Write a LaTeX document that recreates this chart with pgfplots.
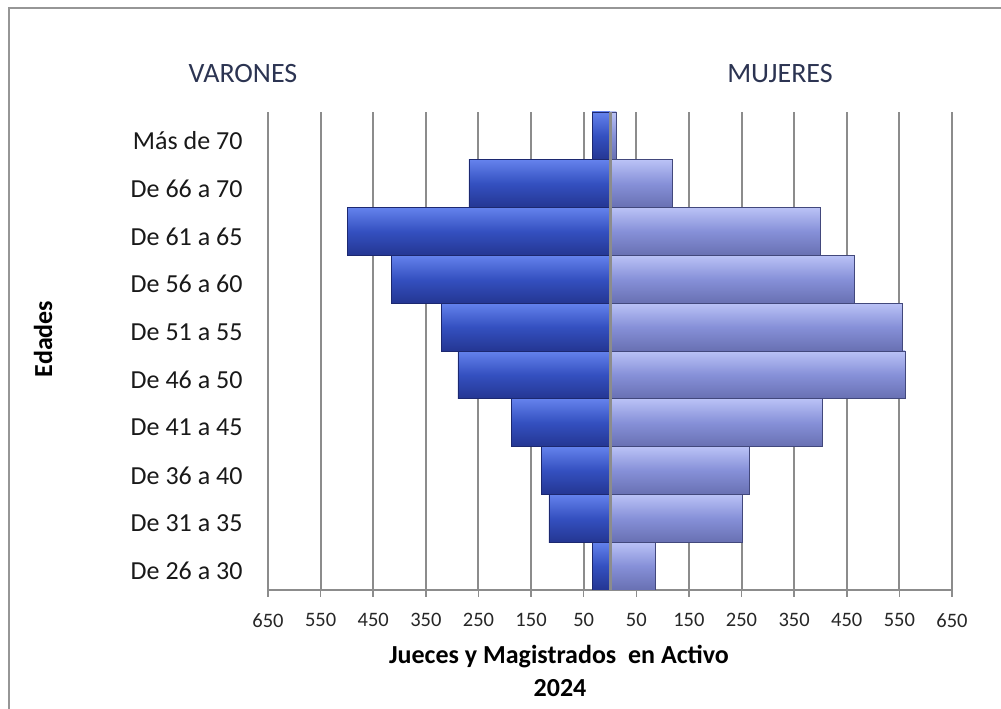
\documentclass[border=0pt]{standalone}
\usepackage{pgfplots}
\pgfplotsset{compat=1.18}
\usepackage{fontspec}
\setmainfont{Carlito}
\definecolor{gridgray}{RGB}{140,140,140}
\definecolor{menmid}{RGB}{52,80,192}
\definecolor{mentop}{RGB}{100,130,236}
\definecolor{menbot}{RGB}{36,54,146}
\definecolor{menedge}{RGB}{28,40,112}
\definecolor{womid}{RGB}{134,144,216}
\definecolor{wotop}{RGB}{186,194,246}
\definecolor{wobot}{RGB}{104,112,178}
\definecolor{woedge}{RGB}{66,72,124}
\definecolor{titlecol}{RGB}{44,52,82}
\definecolor{framegray}{RGB}{150,150,150}
\begin{document}
\begin{tikzpicture}[x=1pt,y=1pt]
\useasboundingbox (0,0) rectangle (1001,709);
\draw[framegray, line width=2pt] (9,-2) -- (9,701) -- (1003,701);
\begin{axis}[
  at={(268pt,119pt)}, anchor=south west,
  scale only axis, width=684pt, height=478pt,
  xbar, bar width=47.8pt,
  xmin=-650, xmax=650, ymin=-0.5, ymax=9.5,
  xtick={-650,-550,-450,-350,-250,-150,-50,50,150,250,350,450,550,650},
  xticklabels={650,550,450,350,250,150,50,50,150,250,350,450,550,650},
  ytick={0,1,2,3,4,5,6,7,8,9},
  yticklabels={De 26 a 30,De 31 a 35,De 36 a 40,De 41 a 45,De 46 a 50,De 51 a 55,De 56 a 60,De 61 a 65,De 66 a 70,Más de 70},
  xmajorgrids, grid style={gridgray, line width=2pt},
  axis x line*=bottom, axis y line*=left,
  axis line style={-, gridgray, line width=2pt},
  tick align=outside, major tick length=7pt,
  xtick style={gridgray, line width=1.5pt},
  ytick style={draw=none},
  xticklabel style={font=\fontsize{20.5}{24}\selectfont, text=black!85, yshift=-13pt},
  yticklabel style={font=\fontsize{26}{31}\selectfont, text=black!90, xshift=-15pt, yshift=-5pt},
  men/.style={bar shift=0pt, draw=menedge, line width=0.8pt, top color=mentop, bottom color=menbot, middle color=menmid},
  wom/.style={bar shift=0pt, draw=woedge, line width=0.8pt, top color=wotop, bottom color=wobot, middle color=womid},
]
\addplot[men] coordinates {(-34,0)};
\addplot[men] coordinates {(-116,1)};
\addplot[men] coordinates {(-131,2)};
\addplot[men] coordinates {(-187,3)};
\addplot[men] coordinates {(-289,4)};
\addplot[men] coordinates {(-321,5)};
\addplot[men] coordinates {(-416,6)};
\addplot[men] coordinates {(-499,7)};
\addplot[men] coordinates {(-268,8)};
\addplot[men] coordinates {(-34,9)};
\addplot[wom] coordinates {(86,0)};
\addplot[wom] coordinates {(252,1)};
\addplot[wom] coordinates {(264,2)};
\addplot[wom] coordinates {(403,3)};
\addplot[wom] coordinates {(561,4)};
\addplot[wom] coordinates {(556,5)};
\addplot[wom] coordinates {(464,6)};
\addplot[wom] coordinates {(400,7)};
\addplot[wom] coordinates {(118,8)};
\addplot[wom] coordinates {(12,9)};
\draw[gridgray, line width=3pt] (axis cs:0,-0.5) -- (axis cs:0,9.5);
\end{axis}
\node[font=\fontsize{28}{34}\selectfont, text=titlecol] at (243,635) {VARONES};
\node[font=\fontsize{28}{34}\selectfont, text=titlecol] at (780,635) {MUJERES};
\node[rotate=90, font=\bfseries\fontsize{26}{31}\selectfont] at (43,370) {Edades};
\node[font=\bfseries\fontsize{26}{31}\selectfont] at (559,52) {Jueces y Magistrados~ en Activo};
\node[font=\bfseries\fontsize{26}{31}\selectfont] at (560,21) {2024};
\end{tikzpicture}
\end{document}
